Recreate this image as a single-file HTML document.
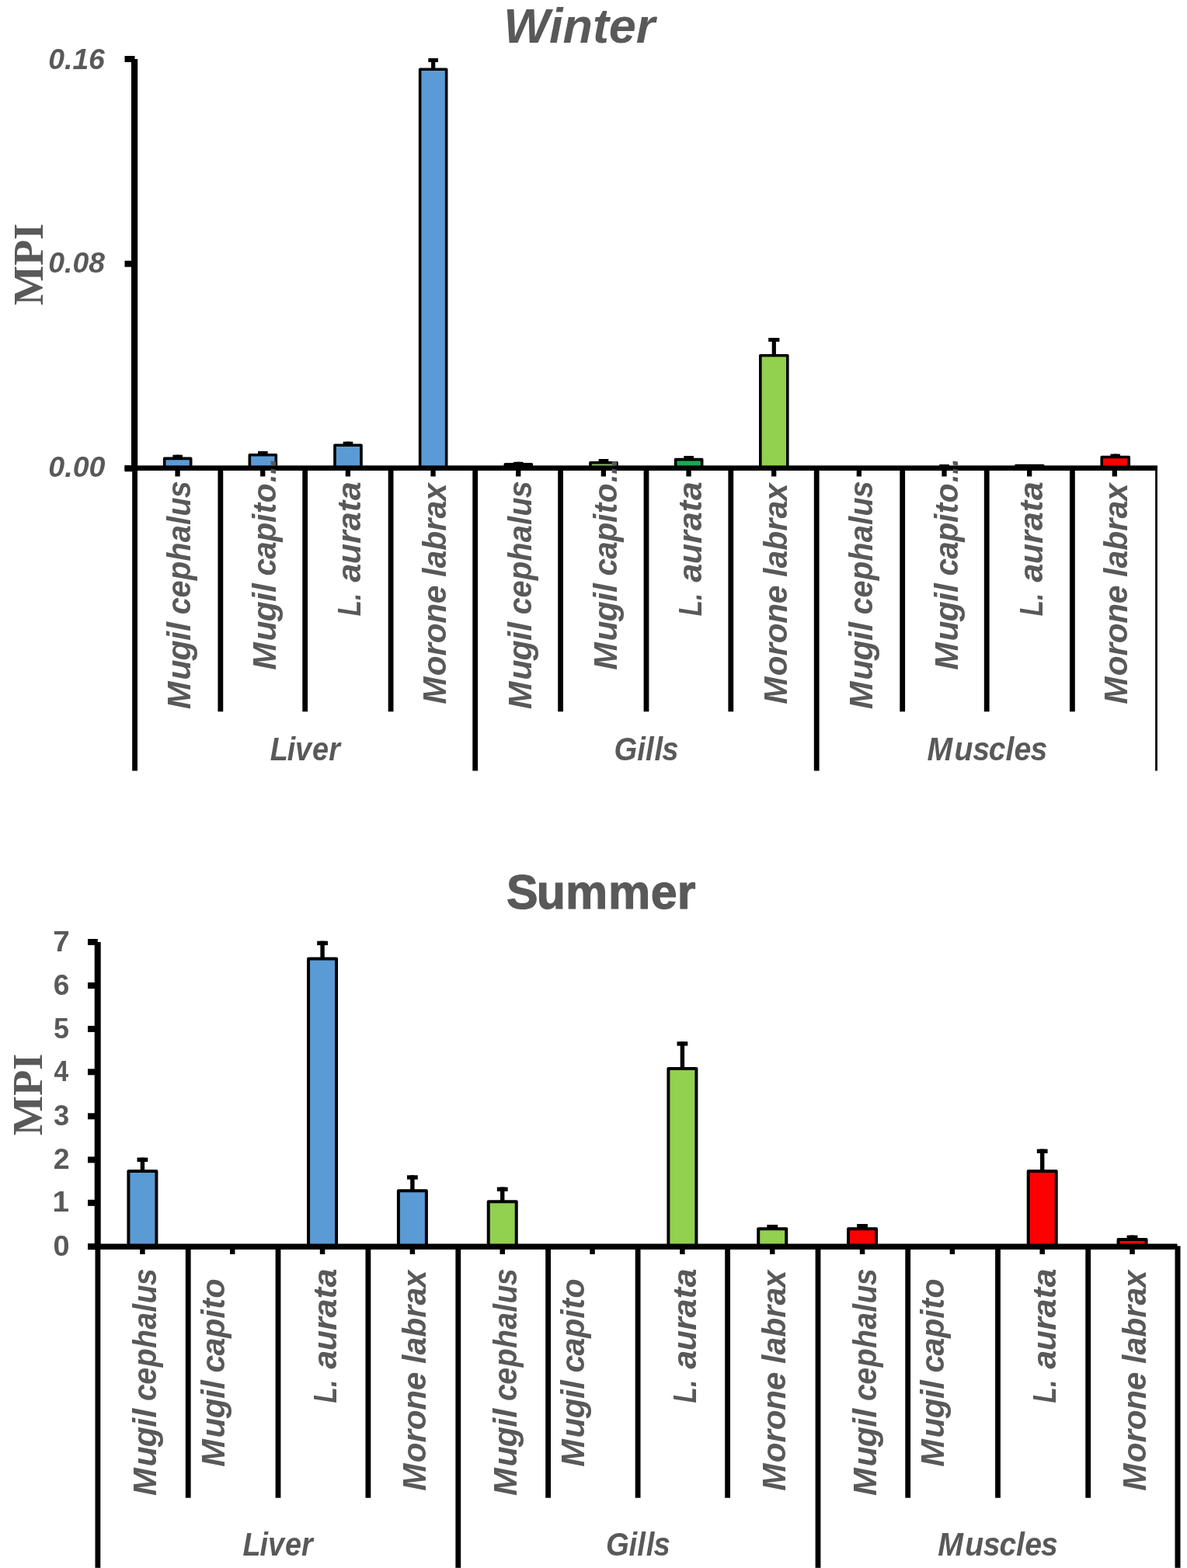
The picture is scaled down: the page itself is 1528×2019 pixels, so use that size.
<!DOCTYPE html>
<html lang="en">
<head>
<meta charset="utf-8">
<title>MPI in Winter and Summer</title>
<style>
html,body{margin:0;padding:0;background:#fff;}
body{width:1528px;height:2019px;overflow:hidden;}
svg{display:block;}
</style>
</head>
<body>
<svg width="1528" height="2019" viewBox="0 0 1528 2019">
<rect x="0" y="0" width="1528" height="2019" fill="#ffffff"/>
<rect x="222.37" y="585.70" width="12.60" height="5.00" fill="#000" />
<rect x="226.07" y="585.70" width="5.20" height="4.70" fill="#000" />
<rect x="211.67" y="590.40" width="34.00" height="12.30" fill="#5B9BD5" stroke="#000" stroke-width="3.6" stroke-linejoin="round"/>
<rect x="332.03" y="581.00" width="12.60" height="5.00" fill="#000" />
<rect x="335.73" y="581.00" width="5.20" height="4.80" fill="#000" />
<rect x="321.33" y="585.80" width="34.00" height="16.90" fill="#5B9BD5" stroke="#000" stroke-width="3.6" stroke-linejoin="round"/>
<rect x="441.69" y="568.70" width="12.60" height="5.00" fill="#000" />
<rect x="445.39" y="568.70" width="5.20" height="4.60" fill="#000" />
<rect x="430.99" y="573.30" width="34.00" height="29.40" fill="#5B9BD5" stroke="#000" stroke-width="3.6" stroke-linejoin="round"/>
<rect x="551.35" y="75.00" width="12.60" height="5.00" fill="#000" />
<rect x="555.05" y="75.00" width="5.20" height="14.30" fill="#000" />
<rect x="540.65" y="89.30" width="34.00" height="513.40" fill="#5B9BD5" stroke="#000" stroke-width="3.6" stroke-linejoin="round"/>
<rect x="661.01" y="594.80" width="12.60" height="5.00" fill="#000" />
<rect x="664.71" y="594.80" width="5.20" height="3.00" fill="#000" />
<rect x="650.31" y="597.80" width="34.00" height="4.90" fill="#000" stroke="#000" stroke-width="3.6" stroke-linejoin="round"/>
<rect x="770.67" y="591.00" width="12.60" height="5.00" fill="#000" />
<rect x="774.37" y="591.00" width="5.20" height="4.80" fill="#000" />
<rect x="759.97" y="595.80" width="34.00" height="6.90" fill="#8FBF6A" stroke="#000" stroke-width="3.6" stroke-linejoin="round"/>
<rect x="880.33" y="587.00" width="12.60" height="5.00" fill="#000" />
<rect x="884.03" y="587.00" width="5.20" height="4.60" fill="#000" />
<rect x="869.63" y="591.60" width="34.00" height="11.10" fill="#1FA855" stroke="#000" stroke-width="3.6" stroke-linejoin="round"/>
<rect x="989.19" y="435.00" width="14.20" height="5.00" fill="#000" />
<rect x="993.69" y="435.00" width="5.20" height="22.80" fill="#000" />
<rect x="978.79" y="457.80" width="35.00" height="144.90" fill="#92D050" stroke="#000" stroke-width="3.6" stroke-linejoin="round"/>
<rect x="1209.31" y="598.00" width="12.40" height="4.70" fill="#000" />
<rect x="1307.77" y="599.60" width="35.00" height="3.10" fill="#000" stroke="#000" stroke-width="3.6" stroke-linejoin="round"/>
<rect x="1429.43" y="584.60" width="12.60" height="5.00" fill="#000" />
<rect x="1433.13" y="584.60" width="5.20" height="3.90" fill="#000" />
<rect x="1418.23" y="588.50" width="35.00" height="14.20" fill="#FF0000" stroke="#000" stroke-width="3.6" stroke-linejoin="round"/>
<rect x="169.00" y="76.00" width="8.20" height="526.70" fill="#000" />
<rect x="160.50" y="72.00" width="13.00" height="8.00" fill="#000" />
<rect x="160.50" y="335.70" width="13.00" height="8.00" fill="#000" />
<rect x="160.50" y="599.25" width="13.00" height="8.00" fill="#000" />
<rect x="160.50" y="599.40" width="1329.50" height="6.60" fill="#000" />
<rect x="170.20" y="602.70" width="6.80" height="389.80" fill="#000" />
<rect x="280.45" y="602.70" width="6.80" height="313.60" fill="#000" />
<rect x="389.30" y="602.70" width="6.80" height="313.60" fill="#000" />
<rect x="499.70" y="602.70" width="6.80" height="313.60" fill="#000" />
<rect x="608.30" y="602.70" width="6.80" height="389.80" fill="#000" />
<rect x="718.20" y="602.70" width="6.80" height="313.60" fill="#000" />
<rect x="828.60" y="602.70" width="6.80" height="313.60" fill="#000" />
<rect x="937.40" y="602.70" width="6.80" height="313.60" fill="#000" />
<rect x="1047.80" y="602.70" width="6.80" height="389.80" fill="#000" />
<rect x="1158.30" y="602.70" width="6.80" height="313.60" fill="#000" />
<rect x="1266.80" y="602.70" width="6.80" height="313.60" fill="#000" />
<rect x="1377.00" y="602.70" width="6.80" height="313.60" fill="#000" />
<rect x="1487.10" y="602.70" width="2.80" height="389.80" fill="#000" />
<rect x="225.42" y="602.70" width="6.30" height="10.80" fill="#000" />
<rect x="335.08" y="602.70" width="6.30" height="10.80" fill="#000" />
<rect x="444.74" y="602.70" width="6.30" height="10.80" fill="#000" />
<rect x="554.40" y="602.70" width="6.30" height="10.80" fill="#000" />
<rect x="664.06" y="602.70" width="6.30" height="10.80" fill="#000" />
<rect x="773.72" y="602.70" width="6.30" height="10.80" fill="#000" />
<rect x="883.38" y="602.70" width="6.30" height="10.80" fill="#000" />
<rect x="993.04" y="602.70" width="6.30" height="10.80" fill="#000" />
<rect x="1102.70" y="602.70" width="6.30" height="10.80" fill="#000" />
<rect x="1212.36" y="602.70" width="6.30" height="10.80" fill="#000" />
<rect x="1322.02" y="602.70" width="6.30" height="10.80" fill="#000" />
<rect x="1431.68" y="602.70" width="6.30" height="10.80" fill="#000" />
<rect x="176.51" y="1490.60" width="13.80" height="5.40" fill="#000" />
<rect x="180.72" y="1490.60" width="5.40" height="17.40" fill="#000" />
<rect x="165.41" y="1508.00" width="36.00" height="97.20" fill="#5B9BD5" stroke="#000" stroke-width="4.0" stroke-linejoin="round"/>
<rect x="408.18" y="1211.70" width="13.80" height="5.40" fill="#000" />
<rect x="412.38" y="1211.70" width="5.40" height="22.70" fill="#000" />
<rect x="397.07" y="1234.40" width="36.00" height="370.80" fill="#5B9BD5" stroke="#000" stroke-width="4.0" stroke-linejoin="round"/>
<rect x="524.00" y="1513.30" width="13.80" height="5.40" fill="#000" />
<rect x="528.20" y="1513.30" width="5.40" height="20.00" fill="#000" />
<rect x="512.90" y="1533.30" width="36.00" height="71.90" fill="#5B9BD5" stroke="#000" stroke-width="4.0" stroke-linejoin="round"/>
<rect x="639.84" y="1528.60" width="13.80" height="5.40" fill="#000" />
<rect x="644.03" y="1528.60" width="5.40" height="18.70" fill="#000" />
<rect x="628.74" y="1547.30" width="36.00" height="57.90" fill="#92D050" stroke="#000" stroke-width="4.0" stroke-linejoin="round"/>
<rect x="871.50" y="1341.20" width="13.80" height="5.40" fill="#000" />
<rect x="875.69" y="1341.20" width="5.40" height="34.80" fill="#000" />
<rect x="860.39" y="1376.00" width="36.00" height="229.20" fill="#92D050" stroke="#000" stroke-width="4.0" stroke-linejoin="round"/>
<rect x="987.33" y="1577.00" width="13.80" height="5.40" fill="#000" />
<rect x="991.52" y="1577.00" width="5.40" height="5.30" fill="#000" />
<rect x="976.23" y="1582.30" width="36.00" height="22.90" fill="#92D050" stroke="#000" stroke-width="4.0" stroke-linejoin="round"/>
<rect x="1103.15" y="1576.00" width="13.80" height="5.40" fill="#000" />
<rect x="1107.36" y="1576.00" width="5.40" height="6.30" fill="#000" />
<rect x="1092.06" y="1582.30" width="36.00" height="22.90" fill="#FF0000" stroke="#000" stroke-width="4.0" stroke-linejoin="round"/>
<rect x="1334.81" y="1479.60" width="13.80" height="5.40" fill="#000" />
<rect x="1339.01" y="1479.60" width="5.40" height="28.40" fill="#000" />
<rect x="1323.71" y="1508.00" width="36.00" height="97.20" fill="#FF0000" stroke="#000" stroke-width="4.0" stroke-linejoin="round"/>
<rect x="1450.64" y="1590.60" width="13.80" height="5.40" fill="#000" />
<rect x="1454.85" y="1590.60" width="5.40" height="5.30" fill="#000" />
<rect x="1439.55" y="1595.90" width="36.00" height="9.30" fill="#FF0000" stroke="#000" stroke-width="4.0" stroke-linejoin="round"/>
<rect x="121.70" y="1213.00" width="8.00" height="392.20" fill="#000" />
<rect x="113.00" y="1209.00" width="12.80" height="8.00" fill="#000" />
<rect x="113.00" y="1265.00" width="12.80" height="8.00" fill="#000" />
<rect x="113.00" y="1320.90" width="12.80" height="8.00" fill="#000" />
<rect x="113.00" y="1376.30" width="12.80" height="8.00" fill="#000" />
<rect x="113.00" y="1433.30" width="12.80" height="8.00" fill="#000" />
<rect x="113.00" y="1489.40" width="12.80" height="8.00" fill="#000" />
<rect x="113.00" y="1544.80" width="12.80" height="8.00" fill="#000" />
<rect x="113.00" y="1601.20" width="12.80" height="8.00" fill="#000" />
<rect x="113.00" y="1601.50" width="1402.50" height="7.40" fill="#000" />
<rect x="122.50" y="1605.20" width="6.80" height="413.60" fill="#000" />
<rect x="238.80" y="1605.20" width="6.80" height="323.50" fill="#000" />
<rect x="354.60" y="1605.20" width="6.80" height="323.50" fill="#000" />
<rect x="470.50" y="1605.20" width="6.80" height="323.50" fill="#000" />
<rect x="586.40" y="1605.20" width="6.80" height="413.60" fill="#000" />
<rect x="702.20" y="1605.20" width="6.80" height="323.50" fill="#000" />
<rect x="817.70" y="1605.20" width="6.80" height="323.50" fill="#000" />
<rect x="933.20" y="1605.20" width="6.80" height="323.50" fill="#000" />
<rect x="1049.60" y="1605.20" width="6.80" height="413.60" fill="#000" />
<rect x="1165.30" y="1605.20" width="6.80" height="323.50" fill="#000" />
<rect x="1281.10" y="1605.20" width="6.80" height="323.50" fill="#000" />
<rect x="1397.30" y="1605.20" width="6.80" height="323.50" fill="#000" />
<rect x="1512.50" y="1604.40" width="7.00" height="414.40" fill="#000" />
<rect x="180.16" y="1605.20" width="6.50" height="9.80" fill="#000" />
<rect x="296.00" y="1605.20" width="6.50" height="9.80" fill="#000" />
<rect x="411.82" y="1605.20" width="6.50" height="9.80" fill="#000" />
<rect x="527.65" y="1605.20" width="6.50" height="9.80" fill="#000" />
<rect x="643.49" y="1605.20" width="6.50" height="9.80" fill="#000" />
<rect x="759.31" y="1605.20" width="6.50" height="9.80" fill="#000" />
<rect x="875.14" y="1605.20" width="6.50" height="9.80" fill="#000" />
<rect x="990.98" y="1605.20" width="6.50" height="9.80" fill="#000" />
<rect x="1106.81" y="1605.20" width="6.50" height="9.80" fill="#000" />
<rect x="1222.63" y="1605.20" width="6.50" height="9.80" fill="#000" />
<rect x="1338.46" y="1605.20" width="6.50" height="9.80" fill="#000" />
<rect x="1454.30" y="1605.20" width="6.50" height="9.80" fill="#000" />
<text y="55.20" font-family="'Liberation Sans', sans-serif" font-weight="bold" font-style="italic" font-size="62.90" fill="#595959"><tspan x="648.18" textLength="195.12" lengthAdjust="spacingAndGlyphs">Winter</tspan></text>
<text y="88.70" font-family="'Liberation Sans', sans-serif" font-weight="bold" font-style="italic" font-size="36.36" fill="#595959"><tspan x="62.31" textLength="72.55" lengthAdjust="spacingAndGlyphs">0.16</tspan></text>
<text y="350.90" font-family="'Liberation Sans', sans-serif" font-weight="bold" font-style="italic" font-size="36.36" fill="#595959"><tspan x="62.30" textLength="72.74" lengthAdjust="spacingAndGlyphs">0.08</tspan></text>
<text y="614.30" font-family="'Liberation Sans', sans-serif" font-weight="bold" font-style="italic" font-size="36.36" fill="#595959"><tspan x="62.30" textLength="73.13" lengthAdjust="spacingAndGlyphs">0.00</tspan></text>
<text transform="translate(55.00,0) rotate(-90)" y="0.00" font-family="'Liberation Serif', serif" font-weight="bold" font-style="normal" font-size="54.05" fill="#595959"><tspan x="-393.21" textLength="105.56" lengthAdjust="spacingAndGlyphs">MPI</tspan></text>
<text transform="translate(245.47,0) rotate(-90)" y="0.00" font-family="'Liberation Sans', sans-serif" font-weight="bold" font-style="italic" font-size="42.32" fill="#595959"><tspan x="-913.16 -875.80 -850.47 -824.98 -813.07" textLength="112.13" lengthAdjust="spacingAndGlyphs">Mugil</tspan> <tspan x="-791.19 -769.58 -747.12 -722.66 -698.15 -675.90 -664.63 -641.23" textLength="171.98" lengthAdjust="spacingAndGlyphs">cephalus</tspan></text>
<text transform="translate(355.23,0) rotate(-90)" y="0.00" font-family="'Liberation Sans', sans-serif" font-weight="bold" font-style="italic" font-size="42.32" fill="#595959"><tspan x="-862.66 -825.47 -800.24 -774.87 -763.02" textLength="111.63" lengthAdjust="spacingAndGlyphs">Mugil</tspan> <tspan x="-741.41 -719.87 -697.51 -673.00 -661.23 -647.24" textLength="119.02" lengthAdjust="spacingAndGlyphs">capito</tspan></text>
<text transform="translate(355.23,0) rotate(-90)" y="0.00" font-family="'Liberation Sans', sans-serif" font-weight="bold" font-style="italic" font-size="42.32" fill="#595959"><tspan x="-620.92" textLength="30.70" lengthAdjust="spacingAndGlyphs">...</tspan></text>
<text transform="translate(464.39,0) rotate(-90)" y="0.00" font-family="'Liberation Sans', sans-serif" font-weight="bold" font-style="italic" font-size="42.32" fill="#595959"><tspan x="-793.36 -773.07" textLength="29.32" lengthAdjust="spacingAndGlyphs">L.</tspan> <tspan x="-749.82 -726.17 -700.01 -683.33 -658.95 -644.18" textLength="129.68" lengthAdjust="spacingAndGlyphs">aurata</tspan></text>
<text transform="translate(574.00,0) rotate(-90)" y="0.00" font-family="'Liberation Sans', sans-serif" font-weight="bold" font-style="italic" font-size="42.32" fill="#595959"><tspan x="-906.65 -870.22 -844.52 -828.29 -802.86 -777.25" textLength="152.94" lengthAdjust="spacingAndGlyphs">Morone</tspan> <tspan x="-743.02 -731.57 -708.77 -683.65 -667.52 -645.07" textLength="120.74" lengthAdjust="spacingAndGlyphs">labrax</tspan></text>
<text transform="translate(684.11,0) rotate(-90)" y="0.00" font-family="'Liberation Sans', sans-serif" font-weight="bold" font-style="italic" font-size="42.32" fill="#595959"><tspan x="-913.16 -875.80 -850.47 -824.98 -813.07" textLength="112.13" lengthAdjust="spacingAndGlyphs">Mugil</tspan> <tspan x="-791.19 -769.58 -747.12 -722.66 -698.15 -675.90 -664.63 -641.23" textLength="171.98" lengthAdjust="spacingAndGlyphs">cephalus</tspan></text>
<text transform="translate(793.87,0) rotate(-90)" y="0.00" font-family="'Liberation Sans', sans-serif" font-weight="bold" font-style="italic" font-size="42.32" fill="#595959"><tspan x="-862.66 -825.47 -800.24 -774.87 -763.02" textLength="111.63" lengthAdjust="spacingAndGlyphs">Mugil</tspan> <tspan x="-741.41 -719.87 -697.51 -673.00 -661.23 -647.24" textLength="119.02" lengthAdjust="spacingAndGlyphs">capito</tspan></text>
<text transform="translate(793.87,0) rotate(-90)" y="0.00" font-family="'Liberation Sans', sans-serif" font-weight="bold" font-style="italic" font-size="42.32" fill="#595959"><tspan x="-620.92" textLength="30.70" lengthAdjust="spacingAndGlyphs">...</tspan></text>
<text transform="translate(903.03,0) rotate(-90)" y="0.00" font-family="'Liberation Sans', sans-serif" font-weight="bold" font-style="italic" font-size="42.32" fill="#595959"><tspan x="-793.36 -773.07" textLength="29.32" lengthAdjust="spacingAndGlyphs">L.</tspan> <tspan x="-749.82 -726.17 -700.01 -683.33 -658.95 -644.18" textLength="129.68" lengthAdjust="spacingAndGlyphs">aurata</tspan></text>
<text transform="translate(1012.64,0) rotate(-90)" y="0.00" font-family="'Liberation Sans', sans-serif" font-weight="bold" font-style="italic" font-size="42.32" fill="#595959"><tspan x="-906.65 -870.22 -844.52 -828.29 -802.86 -777.25" textLength="152.94" lengthAdjust="spacingAndGlyphs">Morone</tspan> <tspan x="-743.02 -731.57 -708.77 -683.65 -667.52 -645.07" textLength="120.74" lengthAdjust="spacingAndGlyphs">labrax</tspan></text>
<text transform="translate(1122.75,0) rotate(-90)" y="0.00" font-family="'Liberation Sans', sans-serif" font-weight="bold" font-style="italic" font-size="42.32" fill="#595959"><tspan x="-913.16 -875.80 -850.47 -824.98 -813.07" textLength="112.13" lengthAdjust="spacingAndGlyphs">Mugil</tspan> <tspan x="-791.19 -769.58 -747.12 -722.66 -698.15 -675.90 -664.63 -641.23" textLength="171.98" lengthAdjust="spacingAndGlyphs">cephalus</tspan></text>
<text transform="translate(1232.51,0) rotate(-90)" y="0.00" font-family="'Liberation Sans', sans-serif" font-weight="bold" font-style="italic" font-size="42.32" fill="#595959"><tspan x="-862.66 -825.47 -800.24 -774.87 -763.02" textLength="111.63" lengthAdjust="spacingAndGlyphs">Mugil</tspan> <tspan x="-741.41 -719.87 -697.51 -673.00 -661.23 -647.24" textLength="119.02" lengthAdjust="spacingAndGlyphs">capito</tspan></text>
<text transform="translate(1232.51,0) rotate(-90)" y="0.00" font-family="'Liberation Sans', sans-serif" font-weight="bold" font-style="italic" font-size="42.32" fill="#595959"><tspan x="-620.92" textLength="30.70" lengthAdjust="spacingAndGlyphs">...</tspan></text>
<text transform="translate(1341.67,0) rotate(-90)" y="0.00" font-family="'Liberation Sans', sans-serif" font-weight="bold" font-style="italic" font-size="42.32" fill="#595959"><tspan x="-793.36 -773.07" textLength="29.32" lengthAdjust="spacingAndGlyphs">L.</tspan> <tspan x="-749.82 -726.17 -700.01 -683.33 -658.95 -644.18" textLength="129.68" lengthAdjust="spacingAndGlyphs">aurata</tspan></text>
<text transform="translate(1451.28,0) rotate(-90)" y="0.00" font-family="'Liberation Sans', sans-serif" font-weight="bold" font-style="italic" font-size="42.32" fill="#595959"><tspan x="-906.65 -870.22 -844.52 -828.29 -802.86 -777.25" textLength="152.94" lengthAdjust="spacingAndGlyphs">Morone</tspan> <tspan x="-743.02 -731.57 -708.77 -683.65 -667.52 -645.07" textLength="120.74" lengthAdjust="spacingAndGlyphs">labrax</tspan></text>
<text y="978.80" font-family="'Liberation Sans', sans-serif" font-weight="bold" font-style="italic" font-size="41.74" fill="#595959"><tspan x="347.70 369.64 380.02 401.99 423.18" textLength="90.21" lengthAdjust="spacingAndGlyphs">Liver</tspan></text>
<text y="978.80" font-family="'Liberation Sans', sans-serif" font-weight="bold" font-style="italic" font-size="41.74" fill="#595959"><tspan x="790.58 820.18 831.03 842.55 852.27" textLength="83.05" lengthAdjust="spacingAndGlyphs">Gills</tspan></text>
<text y="978.80" font-family="'Liberation Sans', sans-serif" font-weight="bold" font-style="italic" font-size="41.74" fill="#595959"><tspan x="1193.57 1228.48 1252.19 1272.76 1294.38 1305.60 1326.46" textLength="154.71" lengthAdjust="spacingAndGlyphs">Muscles</tspan></text>
<text y="1170.00" font-family="'Liberation Sans', sans-serif" font-weight="bold" font-style="normal" font-size="63.19" fill="#595959" stroke="#595959" stroke-width="1.2" stroke-linejoin="round"><tspan x="652.02 690.73 728.02 782.99 837.71 871.86" textLength="243.68" lengthAdjust="spacingAndGlyphs">Summer</tspan></text>
<text y="1224.60" font-family="'Liberation Sans', sans-serif" font-weight="bold" font-style="normal" font-size="36.52" fill="#595959"><tspan x="68.26" textLength="21.53" lengthAdjust="spacingAndGlyphs">7</tspan></text>
<text y="1280.60" font-family="'Liberation Sans', sans-serif" font-weight="bold" font-style="normal" font-size="36.52" fill="#595959"><tspan x="68.70" textLength="20.64" lengthAdjust="spacingAndGlyphs">6</tspan></text>
<text y="1336.50" font-family="'Liberation Sans', sans-serif" font-weight="bold" font-style="normal" font-size="36.52" fill="#595959"><tspan x="68.92" textLength="20.02" lengthAdjust="spacingAndGlyphs">5</tspan></text>
<text y="1391.90" font-family="'Liberation Sans', sans-serif" font-weight="bold" font-style="normal" font-size="36.52" fill="#595959"><tspan x="69.50" textLength="18.71" lengthAdjust="spacingAndGlyphs">4</tspan></text>
<text y="1448.90" font-family="'Liberation Sans', sans-serif" font-weight="bold" font-style="normal" font-size="36.52" fill="#595959"><tspan x="69.09" textLength="20.22" lengthAdjust="spacingAndGlyphs">3</tspan></text>
<text y="1505.00" font-family="'Liberation Sans', sans-serif" font-weight="bold" font-style="normal" font-size="36.52" fill="#595959"><tspan x="68.69" textLength="20.86" lengthAdjust="spacingAndGlyphs">2</tspan></text>
<text y="1560.40" font-family="'Liberation Sans', sans-serif" font-weight="bold" font-style="normal" font-size="36.52" fill="#595959"><tspan x="67.48" textLength="21.53" lengthAdjust="spacingAndGlyphs">1</tspan></text>
<text y="1616.80" font-family="'Liberation Sans', sans-serif" font-weight="bold" font-style="normal" font-size="36.52" fill="#595959"><tspan x="68.48" textLength="21.08" lengthAdjust="spacingAndGlyphs">0</tspan></text>
<text transform="translate(54.30,0) rotate(-90)" y="0.00" font-family="'Liberation Serif', serif" font-weight="bold" font-style="normal" font-size="54.35" fill="#595959"><tspan x="-1462.32" textLength="105.66" lengthAdjust="spacingAndGlyphs">MPI</tspan></text>
<text transform="translate(201.31,0) rotate(-90)" y="0.00" font-family="'Liberation Sans', sans-serif" font-weight="bold" font-style="italic" font-size="42.32" fill="#595959"><tspan x="-1926.06 -1888.64 -1863.25 -1837.73 -1825.79" textLength="112.33" lengthAdjust="spacingAndGlyphs">Mugil</tspan> <tspan x="-1804.08 -1782.64 -1760.37 -1736.11 -1711.81 -1689.74 -1678.57 -1655.36" textLength="170.56" lengthAdjust="spacingAndGlyphs">cephalus</tspan></text>
<text transform="translate(288.59,0) rotate(-90)" y="0.00" font-family="'Liberation Sans', sans-serif" font-weight="bold" font-style="italic" font-size="42.32" fill="#595959"><tspan x="-1888.76 -1851.57 -1826.34 -1800.97 -1789.12" textLength="111.63" lengthAdjust="spacingAndGlyphs">Mugil</tspan> <tspan x="-1767.54 -1745.56 -1722.77 -1697.78 -1685.76 -1671.50" textLength="121.37" lengthAdjust="spacingAndGlyphs">capito</tspan></text>
<text transform="translate(432.57,0) rotate(-90)" y="0.00" font-family="'Liberation Sans', sans-serif" font-weight="bold" font-style="italic" font-size="42.32" fill="#595959"><tspan x="-1806.56 -1786.12" textLength="29.55" lengthAdjust="spacingAndGlyphs">L.</tspan> <tspan x="-1762.82 -1739.22 -1713.13 -1696.49 -1672.16 -1657.43" textLength="129.37" lengthAdjust="spacingAndGlyphs">aurata</tspan></text>
<text transform="translate(548.10,0) rotate(-90)" y="0.00" font-family="'Liberation Sans', sans-serif" font-weight="bold" font-style="italic" font-size="42.32" fill="#595959"><tspan x="-1919.65 -1883.22 -1857.52 -1841.29 -1815.86 -1790.25" textLength="152.94" lengthAdjust="spacingAndGlyphs">Morone</tspan> <tspan x="-1756.02 -1744.58 -1721.80 -1696.70 -1680.59 -1658.15" textLength="120.64" lengthAdjust="spacingAndGlyphs">labrax</tspan></text>
<text transform="translate(664.63,0) rotate(-90)" y="0.00" font-family="'Liberation Sans', sans-serif" font-weight="bold" font-style="italic" font-size="42.32" fill="#595959"><tspan x="-1926.06 -1888.64 -1863.25 -1837.73 -1825.79" textLength="112.33" lengthAdjust="spacingAndGlyphs">Mugil</tspan> <tspan x="-1804.08 -1782.64 -1760.37 -1736.11 -1711.81 -1689.74 -1678.57 -1655.36" textLength="170.56" lengthAdjust="spacingAndGlyphs">cephalus</tspan></text>
<text transform="translate(751.91,0) rotate(-90)" y="0.00" font-family="'Liberation Sans', sans-serif" font-weight="bold" font-style="italic" font-size="42.32" fill="#595959"><tspan x="-1888.76 -1851.57 -1826.34 -1800.97 -1789.12" textLength="111.63" lengthAdjust="spacingAndGlyphs">Mugil</tspan> <tspan x="-1767.54 -1745.56 -1722.77 -1697.78 -1685.76 -1671.50" textLength="121.37" lengthAdjust="spacingAndGlyphs">capito</tspan></text>
<text transform="translate(895.89,0) rotate(-90)" y="0.00" font-family="'Liberation Sans', sans-serif" font-weight="bold" font-style="italic" font-size="42.32" fill="#595959"><tspan x="-1806.56 -1786.12" textLength="29.55" lengthAdjust="spacingAndGlyphs">L.</tspan> <tspan x="-1762.82 -1739.22 -1713.13 -1696.49 -1672.16 -1657.43" textLength="129.37" lengthAdjust="spacingAndGlyphs">aurata</tspan></text>
<text transform="translate(1011.42,0) rotate(-90)" y="0.00" font-family="'Liberation Sans', sans-serif" font-weight="bold" font-style="italic" font-size="42.32" fill="#595959"><tspan x="-1919.65 -1883.22 -1857.52 -1841.29 -1815.86 -1790.25" textLength="152.94" lengthAdjust="spacingAndGlyphs">Morone</tspan> <tspan x="-1756.02 -1744.58 -1721.80 -1696.70 -1680.59 -1658.15" textLength="120.64" lengthAdjust="spacingAndGlyphs">labrax</tspan></text>
<text transform="translate(1127.96,0) rotate(-90)" y="0.00" font-family="'Liberation Sans', sans-serif" font-weight="bold" font-style="italic" font-size="42.32" fill="#595959"><tspan x="-1926.06 -1888.64 -1863.25 -1837.73 -1825.79" textLength="112.33" lengthAdjust="spacingAndGlyphs">Mugil</tspan> <tspan x="-1804.08 -1782.64 -1760.37 -1736.11 -1711.81 -1689.74 -1678.57 -1655.36" textLength="170.56" lengthAdjust="spacingAndGlyphs">cephalus</tspan></text>
<text transform="translate(1215.24,0) rotate(-90)" y="0.00" font-family="'Liberation Sans', sans-serif" font-weight="bold" font-style="italic" font-size="42.32" fill="#595959"><tspan x="-1888.76 -1851.57 -1826.34 -1800.97 -1789.12" textLength="111.63" lengthAdjust="spacingAndGlyphs">Mugil</tspan> <tspan x="-1767.54 -1745.56 -1722.77 -1697.78 -1685.76 -1671.50" textLength="121.37" lengthAdjust="spacingAndGlyphs">capito</tspan></text>
<text transform="translate(1359.21,0) rotate(-90)" y="0.00" font-family="'Liberation Sans', sans-serif" font-weight="bold" font-style="italic" font-size="42.32" fill="#595959"><tspan x="-1806.56 -1786.12" textLength="29.55" lengthAdjust="spacingAndGlyphs">L.</tspan> <tspan x="-1762.82 -1739.22 -1713.13 -1696.49 -1672.16 -1657.43" textLength="129.37" lengthAdjust="spacingAndGlyphs">aurata</tspan></text>
<text transform="translate(1474.75,0) rotate(-90)" y="0.00" font-family="'Liberation Sans', sans-serif" font-weight="bold" font-style="italic" font-size="42.32" fill="#595959"><tspan x="-1919.65 -1883.22 -1857.52 -1841.29 -1815.86 -1790.25" textLength="152.94" lengthAdjust="spacingAndGlyphs">Morone</tspan> <tspan x="-1756.02 -1744.58 -1721.80 -1696.70 -1680.59 -1658.15" textLength="120.64" lengthAdjust="spacingAndGlyphs">labrax</tspan></text>
<text y="2003.40" font-family="'Liberation Sans', sans-serif" font-weight="bold" font-style="italic" font-size="41.74" fill="#595959"><tspan x="312.60 334.54 344.92 366.89 388.08" textLength="90.21" lengthAdjust="spacingAndGlyphs">Liver</tspan></text>
<text y="2003.40" font-family="'Liberation Sans', sans-serif" font-weight="bold" font-style="italic" font-size="41.74" fill="#595959"><tspan x="779.88 809.48 820.33 831.85 841.57" textLength="83.05" lengthAdjust="spacingAndGlyphs">Gills</tspan></text>
<text y="2003.40" font-family="'Liberation Sans', sans-serif" font-weight="bold" font-style="italic" font-size="41.74" fill="#595959"><tspan x="1207.22 1242.13 1265.84 1286.41 1308.03 1319.25 1340.11" textLength="154.71" lengthAdjust="spacingAndGlyphs">Muscles</tspan></text>
</svg>
</body>
</html>
